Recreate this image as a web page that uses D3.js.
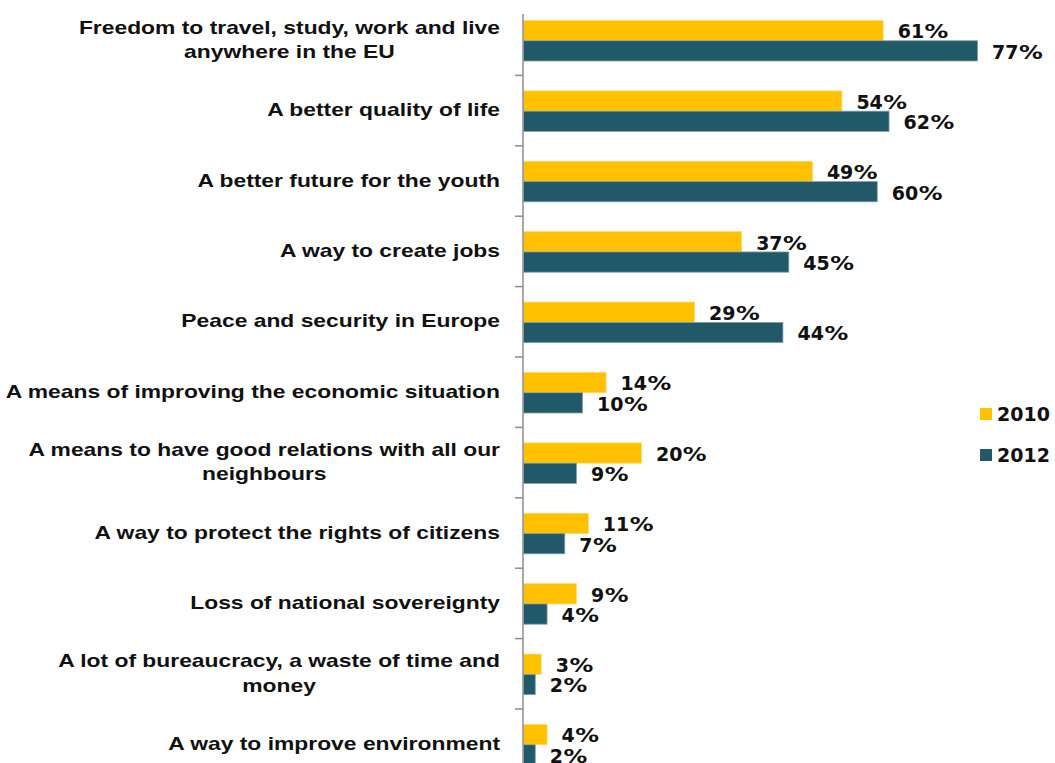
<!DOCTYPE html>
<html>
<head>
<meta charset="utf-8">
<script src="https://cdn.jsdelivr.net/npm/d3@7"></script>
<style>
  html, body { margin: 0; padding: 0; background: #fff; }
  svg { display: block; }
</style>
</head>
<body>
<svg id="chart" width="1055" height="763"></svg>
<script>
// Categories (line breaks marked with \n), top to bottom
const categories = [
  "Freedom to travel, study, work and live\nanywhere in the EU",
  "A better quality of life",
  "A better future for the youth",
  "A way to create jobs",
  "Peace and security in Europe",
  "A means of improving the economic situation",
  "A means to have good relations with all our\nneighbours",
  "A way to protect the rights of citizens",
  "Loss of national sovereignty",
  "A lot of bureaucracy, a waste of time and\nmoney",
  "A way to improve environment"
];
const seriesNames = ["2010", "2012"];
const values2010 = [61, 54, 49, 37, 29, 14, 20, 11, 9, 3, 4];
const values2012 = [77, 62, 60, 45, 44, 10, 9, 7, 4, 2, 2];
const seriesColors = ["#FFC000", "#215968"];

const svg = d3.select("#chart");
const W = 1055, H = 763;

const axisX = 523;
const rowStep = 70.4;
const rowTop = 5;

const x = d3.scaleLinear().domain([0, 100]).range([axisX, axisX + 589.6]);
const y = d3.scaleBand()
  .domain(categories)
  .range([rowTop, rowTop + rowStep * categories.length])
  .paddingInner(0).paddingOuter(0);
const ySeries = d3.scaleBand()
  .domain(seriesNames)
  .range([15.5, 56])
  .padding(0);

const rows = categories.map((c, i) => ({
  cat: c,
  vals: [values2010[i], values2012[i]]
}));

// Bars
const groups = svg.append("g").selectAll("g.row")
  .data(rows).join("g")
  .attr("class", "row")
  .attr("transform", d => `translate(0,${y(d.cat)})`);

groups.selectAll("rect")
  .data(d => d.vals.map((v, k) => ({ v, k })))
  .join("rect")
  .attr("x", x(0) + 0.5)
  .attr("y", d => ySeries(seriesNames[d.k]))
  .attr("width", d => x(d.v) - x(0))
  .attr("height", ySeries.bandwidth())
  .attr("fill", d => seriesColors[d.k])
  .attr("stroke", d => d.k === 0 ? "#ffd96a" : "#7fa3ad")
  .attr("stroke-width", 0.8);

// Value labels: number plus a wide percent sign
const valFont = "DejaVu Sans, Verdana, sans-serif";
const valLabels = groups.selectAll("g.val")
  .data(d => d.vals.map((v, k) => ({ v, k })))
  .join("g")
  .attr("class", "val")
  .attr("transform", d =>
    `translate(${x(d.v) + 15},${ySeries(seriesNames[d.k]) + ySeries.bandwidth() / 2 + 1})`);
valLabels.each(function(d) {
  const g = d3.select(this);
  const num = g.append("text")
    .attr("dy", "0.36em")
    .attr("font-family", valFont)
    .attr("font-weight", "bold")
    .attr("font-size", 19)
    .attr("fill", "#111")
    .text(d.v);
  const w = num.node().getComputedTextLength();
  g.append("text")
    .attr("transform", `translate(${w + 0.5},0) scale(1.25,1)`)
    .attr("dy", "0.36em")
    .attr("font-family", valFont)
    .attr("font-weight", "bold")
    .attr("font-size", 19)
    .attr("fill", "#111")
    .text("%");
});

// Vertical category axis
const axisG = svg.append("g");
axisG.append("line")
  .attr("x1", axisX).attr("x2", axisX)
  .attr("y1", 14).attr("y2", H)
  .attr("stroke", "#8c8c8c").attr("stroke-width", 1.5);
axisG.selectAll("line.tick")
  .data(categories.slice(1))
  .join("line")
  .attr("class", "tick")
  .attr("x1", axisX - 8).attr("x2", axisX)
  .attr("y1", d => y(d)).attr("y2", d => y(d))
  .attr("stroke", "#8c8c8c").attr("stroke-width", 1.5);

// Category labels: block right-aligned, lines centered within the block
const labelRight = 500;
const lineH = 24.5;
const labelStretch = 1.27;
groups.each(function(d) {
  const g = d3.select(this);
  const lines = d.cat.split("\n");
  const t = g.append("g")
    .attr("transform", `translate(${labelRight},${35.5 - 1}) scale(${labelStretch},1)`);
  const texts = t.selectAll("text").data(lines).join("text")
    .attr("font-family", "Liberation Sans, Arial, sans-serif")
    .attr("font-weight", "bold")
    .attr("font-size", 18)
    .attr("fill", "#111")
    .attr("text-anchor", "middle")
    .attr("dy", "0.35em")
    .text(s => s);
  let maxW = 0;
  texts.each(function() { maxW = Math.max(maxW, this.getComputedTextLength()); });
  texts.attr("x", -maxW / 2)
    .attr("y", (s, i) => (i - (lines.length - 1) / 2) * lineH);
});

// Legend
const legend = svg.append("g").selectAll("g")
  .data(seriesNames).join("g")
  .attr("transform", (d, i) => `translate(980,${408 + i * 41})`);
legend.append("rect")
  .attr("width", 12).attr("height", 12)
  .attr("fill", (d, i) => seriesColors[i]);
legend.append("text")
  .attr("x", 17).attr("y", 6).attr("dy", "0.36em")
  .attr("font-family", "DejaVu Sans, Verdana, sans-serif")
  .attr("font-weight", "bold")
  .attr("font-size", 19)
  .attr("fill", "#111")
  .text(d => d);
</script>
</body>
</html>
